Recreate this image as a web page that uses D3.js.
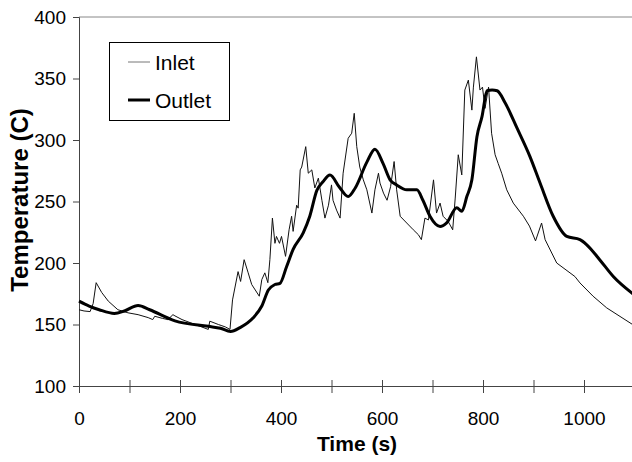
<!DOCTYPE html>
<html lang="en">
<head>
<meta charset="utf-8">
<title>Inlet / Outlet temperature</title>
<script src="https://cdn.jsdelivr.net/npm/d3@7"></script>
<style>
  body { margin: 0; background: #fff; }
  text { font-family: Arial, "Liberation Sans", sans-serif; fill: #000; }
</style>
</head>
<body>
<div id="chart"></div>
<script>
// time (s) and temperature (C)
var inletTime = [0, 10, 22, 28, 34, 45, 58, 77, 97, 117, 137, 146, 150, 165, 176, 186, 190, 204, 230, 256, 259, 276, 283, 290, 299,
  304, 315, 320, 327, 335, 342, 357, 362, 368, 374, 378, 383, 388, 391, 397, 401, 409, 416, 421, 424, 431, 434, 438, 441, 449,
  454, 461, 467, 474, 481, 487, 494, 500, 503, 510, 517, 523, 533, 540, 545, 550, 556, 563, 570, 580, 586, 593, 596, 603, 610,
  617, 624, 629, 636, 649, 662, 672, 678, 685, 692, 702, 708, 715, 721, 731, 740, 745, 751, 758, 764, 771, 778, 781, 787, 794,
  799, 804, 811, 817, 824, 830, 837, 847, 860, 880, 892, 904, 916, 923, 946, 982, 992, 1018, 1045, 1100];
var inletTemp = [162, 161, 160.5, 167, 184, 176, 169, 162, 159.5, 158, 155.6, 154, 156.7, 155, 154, 158, 157, 154, 150, 146, 152.7, 150, 149, 148, 146,
  170, 193, 185, 202.7, 192, 182.5, 173, 186.5, 192, 184, 202.7, 236.5, 216, 221.6, 216, 221.6, 205.4, 227, 238, 225.7, 247, 244.6, 275.7, 278, 294.6,
  273, 275.7, 261, 269, 251, 236.5, 247, 263.5, 251, 243, 236.5, 273, 301.4, 305.5, 321.7, 294.6, 278, 267.6, 259.5, 240.6, 259.5, 273, 265, 256.8, 251,
  262, 282.5, 259.5, 238, 232.5, 227, 223, 219, 236.5, 235, 267.6, 240.6, 248.7, 238, 233.8, 227, 252.8, 288, 271.6, 340.6, 348.7, 324.3, 343, 367.6, 340.6,
  343, 325.7, 343, 305.5, 288, 281, 273, 259.5, 248.7, 238, 230, 218, 232.5, 219, 200, 189, 183.8, 173, 163.5, 149];

var outletTime = [0, 20, 40, 70, 90, 117, 140, 190, 256, 280, 300, 319, 345, 362, 375, 388, 398, 411, 424, 444, 457, 471, 483, 497,
  515, 533, 547, 570, 586, 602, 616, 629, 649, 669, 681, 695, 715, 728, 748, 758, 768, 778, 788, 798, 808, 818, 828, 844, 867,
  893, 913, 939, 966, 992, 1005, 1031, 1058, 1100];
var outletTemp = [169, 165, 162, 159, 161, 165.5, 162, 153, 148.5, 147, 144.3, 147.5, 155.5, 165, 178, 182.5, 183.5, 197, 211, 224.5, 238, 259, 266, 271.5,
  262, 254, 261, 282, 292.5, 281, 267.6, 263.5, 259.5, 259.5, 251, 238, 229.7, 232.6, 245, 242, 254, 267.6, 302.7, 319, 340, 340.6, 340, 330, 310,
  286.5, 265, 238, 221.6, 219, 215, 202.7, 189, 174];

var seriesNames = ["Inlet", "Outlet"];
var xTicks = d3.range(0, 1101, 100);
var yTicks = d3.range(100, 401, 50);

var w = 632, h = 462;

var xScale = d3.scaleLinear().domain([0, 1100]).range([79, 634.5]);
var yScale = d3.scaleLinear().domain([100, 400]).range([386, 17]);

var svg = d3.select("#chart").append("svg")
  .attr("width", w)
  .attr("height", h);

svg.append("rect").attr("width", w).attr("height", h).attr("fill", "#fff");

// top frame line
svg.append("line")
  .attr("x1", xScale(0)).attr("x2", w)
  .attr("y1", yScale(400)).attr("y2", yScale(400))
  .attr("stroke", "#888").attr("stroke-width", 1);

// y axis
var yAxis = svg.append("g")
  .attr("transform", "translate(" + xScale(0) + ",0)")
  .call(d3.axisLeft(yScale).tickValues(yTicks).tickSize(6).tickPadding(7).tickFormat(d3.format("d")));
yAxis.select(".domain").attr("stroke", "#444");
yAxis.selectAll(".tick line").attr("stroke", "#444");
yAxis.selectAll("text").attr("font-size", 19).attr("fill", "#000");

// x axis, ticks cross the line
var xAxis = svg.append("g")
  .attr("transform", "translate(0," + yScale(100) + ")")
  .call(d3.axisBottom(xScale).tickValues(xTicks).tickSize(7).tickPadding(19)
    .tickFormat(function(d) { return d % 200 === 0 ? d : ""; }));
xAxis.select(".domain").attr("stroke", "#444");
xAxis.selectAll(".tick line").attr("stroke", "#444").attr("y1", -6);
xAxis.selectAll("text").attr("font-size", 19).attr("fill", "#000");

// lines
var line = d3.line()
  .x(function(d) { return xScale(d[0]); })
  .y(function(d) { return yScale(d[1]); });

var inlet = d3.zip(inletTime, inletTemp);
var outlet = d3.zip(outletTime, outletTemp);

svg.append("path")
  .datum(inlet)
  .attr("d", line)
  .attr("fill", "none")
  .attr("stroke", "#111")
  .attr("stroke-width", 1)
  .attr("stroke-linejoin", "round");

svg.append("path")
  .datum(outlet)
  .attr("d", line.curve(d3.curveMonotoneX))
  .attr("fill", "none")
  .attr("stroke", "#000")
  .attr("stroke-width", 3)
  .attr("stroke-linejoin", "round");

// legend
var legend = svg.append("g").attr("transform", "translate(109,42)");
legend.append("rect")
  .attr("x", 0.5).attr("y", 0.5)
  .attr("width", 120).attr("height", 78)
  .attr("fill", "#fff").attr("stroke", "#000");

var legendItems = legend.selectAll(".item")
  .data(seriesNames)
  .enter().append("g")
  .attr("class", "item")
  .attr("transform", function(d, i) { return "translate(0," + (20 + i * 38) + ")"; });

legendItems.append("line")
  .attr("x1", 19).attr("x2", 41)
  .attr("y1", 0).attr("y2", 0)
  .attr("stroke", function(d, i) { return i === 0 ? "#777" : "#000"; })
  .attr("stroke-width", function(d, i) { return i === 0 ? 1 : 3; });

legendItems.append("text")
  .attr("x", 46).attr("y", 8)
  .attr("font-size", 21)
  .text(function(d) { return d; });

// axis titles
svg.append("text")
  .attr("x", 357).attr("y", 451)
  .attr("text-anchor", "middle")
  .attr("font-size", 21)
  .attr("font-weight", "bold")
  .text("Time (s)");

svg.append("text")
  .attr("transform", "translate(28,200) rotate(-90)")
  .attr("text-anchor", "middle")
  .attr("font-size", 24)
  .attr("font-weight", "bold")
  .text("Temperature (C)");
</script>
</body>
</html>
